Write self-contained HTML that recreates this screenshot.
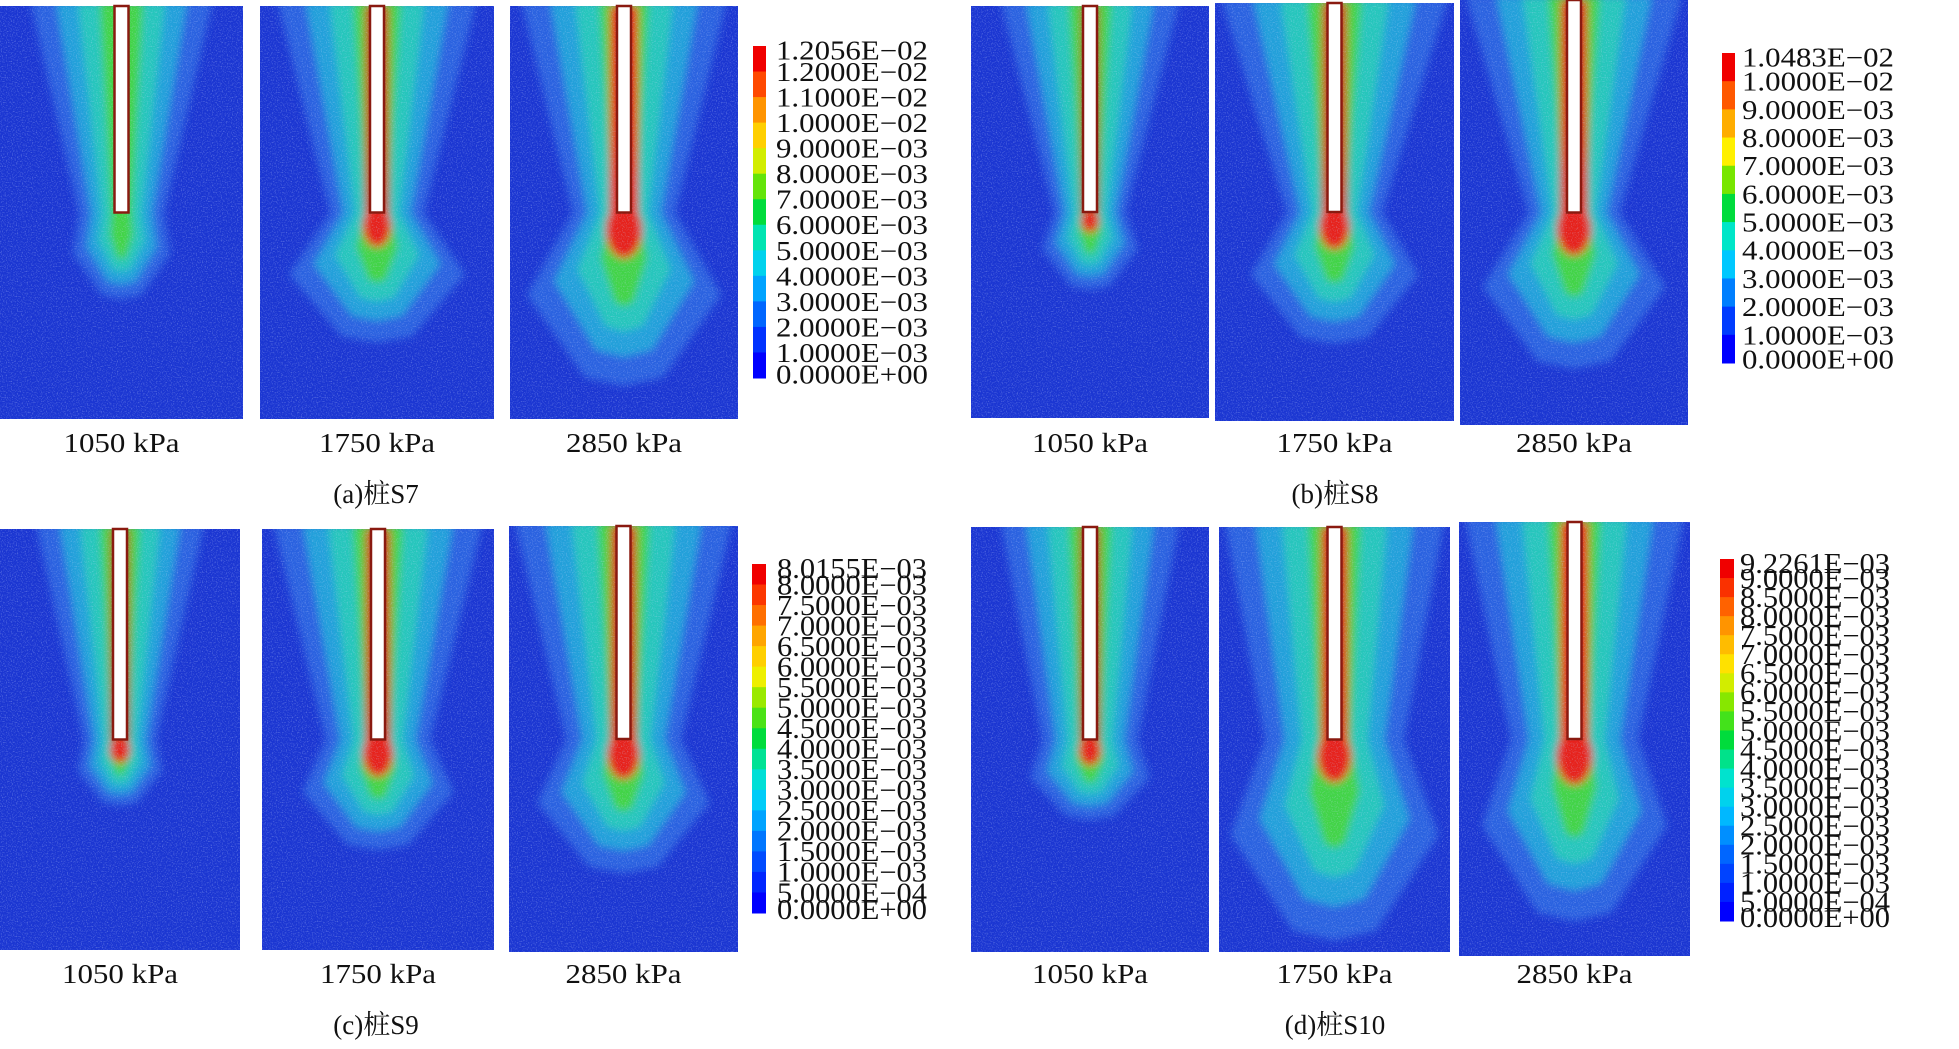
<!DOCTYPE html>
<html><head><meta charset="utf-8">
<style>
html,body{margin:0;padding:0;background:#fff;}
svg{display:block;}
text{font-family:"Liberation Serif","Noto Serif CJK SC","Noto Sans CJK SC",serif;fill:#111;}
</style></head>
<body>
<svg id="fig" width="1959" height="1049" viewBox="0 0 1959 1049" xmlns="http://www.w3.org/2000/svg">
<defs>
<filter id="soft" x="-20%" y="-20%" width="140%" height="140%"><feGaussianBlur stdDeviation="4"/></filter>
<filter id="grain" x="0" y="0" width="100%" height="100%">
<feTurbulence type="fractalNoise" baseFrequency="0.8" numOctaves="1" seed="3" result="n"/>
<feColorMatrix in="n" type="matrix" values="0 0 0 0 0.6  0 0 0 0 0.7  0 0 0 0 1  0 0 0 2.2 -1.1"/>
</filter>
</defs>
</svg>
<script>
// colorbar tick labels (data)
const ticksA = ["1.2056E−02","1.2000E−02","1.1000E−02","1.0000E−02","9.0000E−03","8.0000E−03","7.0000E−03","6.0000E−03","5.0000E−03","4.0000E−03","3.0000E−03","2.0000E−03","1.0000E−03","0.0000E+00"];
const ticksB = ["1.0483E−02","1.0000E−02","9.0000E−03","8.0000E−03","7.0000E−03","6.0000E−03","5.0000E−03","4.0000E−03","3.0000E−03","2.0000E−03","1.0000E−03","0.0000E+00"];
const ticksC = ["8.0155E−03","8.0000E−03","7.5000E−03","7.0000E−03","6.5000E−03","6.0000E−03","5.5000E−03","5.0000E−03","4.5000E−03","4.0000E−03","3.5000E−03","3.0000E−03","2.5000E−03","2.0000E−03","1.5000E−03","1.0000E−03","5.0000E−04","0.0000E+00"];
const ticksD = ["9.2261E−03","9.0000E−03","8.5000E−03","8.0000E−03","7.5000E−03","7.0000E−03","6.5000E−03","6.0000E−03","5.5000E−03","5.0000E−03","4.5000E−03","4.0000E−03","3.5000E−03","3.0000E−03","2.5000E−03","2.0000E−03","1.5000E−03","1.0000E−03","5.0000E−04","0.0000E+00"];
const loadLabels = ["1050 kPa","1750 kPa","2850 kPa"];
const groupCaptions = ["(a)桩S7","(b)桩S8","(c)桩S9","(d)桩S10"];
// plume spread parameters per panel (top half-width, waist, bulb, bulb depth, red intensity)
const plumeTop   = [0.75,0.85,0.9, 0.75,0.95,0.95, 0.7,0.9,0.95, 0.75,0.95,0.95];
const plumeWaist = [0.35,0.4,0.45, 0.3,0.4,0.4, 0.3,0.45,0.5, 0.4,0.6,0.55];
const plumeBulb  = [0.4,0.75,0.85, 0.4,0.7,0.8, 0.35,0.65,0.75, 0.5,0.9,0.8];
const plumeDepth = [0.2,0.3,0.4, 0.18,0.3,0.35, 0.15,0.25,0.3, 0.18,0.45,0.4];
const plumeRed   = [0.0,0.6,1.0, 0.1,0.7,0.9, 0.2,0.7,0.8, 0.3,0.9,1.0];

const NS="http://www.w3.org/2000/svg";
const svg=document.getElementById('fig');
function mk(t,a,p){const e=document.createElementNS(NS,t);for(const k in a)e.setAttribute(k,a[k]);(p||svg).appendChild(e);return e;}

const panels=[
 [0,6,243,413],[260,6,234,413],[510,6,228,413],
 [971,6,238,412],[1215,3,239,418],[1460,0,228,425],
 [0,529,240,421],[262,529,232,421],[509,526,229,426],
 [971,527,238,425],[1219,527,231,425],[1459,522,231,434]
];
const bars=[
 {x:753,y:46,w:13,h:332,lx:776,ticks:ticksA,fs:27,tl:152},
 {x:1722,y:53,w:13,h:310,lx:1742,ticks:ticksB,fs:27,tl:152},
 {x:752,y:564,w:14,h:349,lx:777,ticks:ticksC,fs:28,tl:150},
 {x:1720,y:559,w:14,h:362,lx:1740,ticks:ticksD,fs:28,tl:150}
];
function jet(t){
 const stops=[[0,[0,0,255]],[0.15,[0,90,255]],[0.3,[0,200,255]],[0.4,[0,230,200]],[0.5,[0,220,60]],[0.6,[120,230,0]],[0.7,[255,240,0]],[0.82,[255,160,0]],[0.92,[255,70,0]],[1,[240,0,0]]];
 for(let i=1;i<stops.length;i++){if(t<=stops[i][0]){const a=stops[i-1],b=stops[i];const f=(t-a[0])/(b[0]-a[0]);return 'rgb('+a[1].map((v,j)=>Math.round(v+(b[1][j]-v)*f)).join(',')+')';}}
 return 'rgb(240,0,0)';
}
const layerColors=["#2b62e0","#21a0da","#27c6bc","#42d446"];
const layerScale=[1,0.72,0.48,0.24];

panels.forEach((p,i)=>{
 const [x,y,w,h]=p;
 const g=mk('g',{});
 
 
 const cid='clip'+i;
 const cp=mk('clipPath',{id:cid},svg.querySelector('defs'));
 mk('rect',{x:x,y:y,width:w,height:h},cp);
 const bg=mk('rect',{x:x,y:y,width:w,height:h,fill:'#1b36d2'},g);
 
 
 const inner=mk('g',{'clip-path':'url(#'+cid+')'},g);
 const blur=mk('g',{filter:'url(#soft)'},inner);
 const cx=x+w/2, hw=w/2, tipY=y+0.5*h;
 layerScale.forEach((s,k)=>{
  const t=plumeTop[i]*s, wa=plumeWaist[i]*s, b=plumeBulb[i]*s, d=plumeDepth[i]*(0.4+0.6*s);
  const pts=[[cx-t*hw,y-5],[cx+t*hw,y-5],[cx+wa*hw,tipY],[cx+b*hw,tipY+d*h*0.5],[cx+b*hw*0.4,tipY+d*h],[cx,tipY+d*h*1.05],[cx-b*hw*0.4,tipY+d*h],[cx-b*hw,tipY+d*h*0.5],[cx-wa*hw,tipY]];
  const poly=mk('polygon',{points:pts.map(q=>q.join(',')).join(' '),fill:layerColors[k]},blur);
  
  
 });
 const r=plumeRed[i];
 if(r>0){
  const strip=mk('rect',{x:cx-9-5*r,y:y,width:18+10*r,height:0.5*h,fill:'#e6221a',opacity:Math.min(1,0.5+r*0.5)},blur);
  
  
  const blob=mk('ellipse',{cx:cx,cy:tipY+8+10*r,rx:8+10*r,ry:10+18*r,fill:'#e6221a'},blur);
  
  
 }
 const gr=mk('rect',{x:x,y:y,width:w,height:h,filter:'url(#grain)',opacity:0.5},inner);
 
 
 const pile=mk('rect',{x:cx-7,y:y,width:14,height:0.5*h,fill:'#fff',stroke:'#8a1a10','stroke-width':2.5},g);
 
 
 const ly=i<6?452:983;
 const lab=mk('text',{x:cx,y:ly,'text-anchor':'middle','font-size':27,textLength:116,lengthAdjust:'spacingAndGlyphs'},svg);
 lab.textContent=loadLabels[i%3];
 
 
});

bars.forEach((b,j)=>{
 const n=b.ticks.length-1;
 const g=mk('g',{});
 
 
 for(let k=0;k<n;k++){
  const seg=mk('rect',{x:b.x,y:b.y+k*b.h/n,width:b.w,height:b.h/n+0.5,fill:jet(1-k/(n-1))},g);
  
  
 }
 b.ticks.forEach((t,k)=>{
  const ty=b.y+k*b.h/n+b.fs*0.35+ (k===0?4:0) - (k===n?4:0);
  const tx=mk('text',{x:b.lx,y:ty,'font-size':b.fs,textLength:b.tl,lengthAdjust:'spacingAndGlyphs'},g);
  tx.textContent=t;
  
  
 });
});

const capPos=[[376,503],[1335,503],[376,1034],[1335,1034]];
groupCaptions.forEach((c,j)=>{
 const t=mk('text',{x:capPos[j][0],y:capPos[j][1],'text-anchor':'middle','font-size':27},svg);
 t.textContent=c;
 
 
});
</script>
</body></html>
